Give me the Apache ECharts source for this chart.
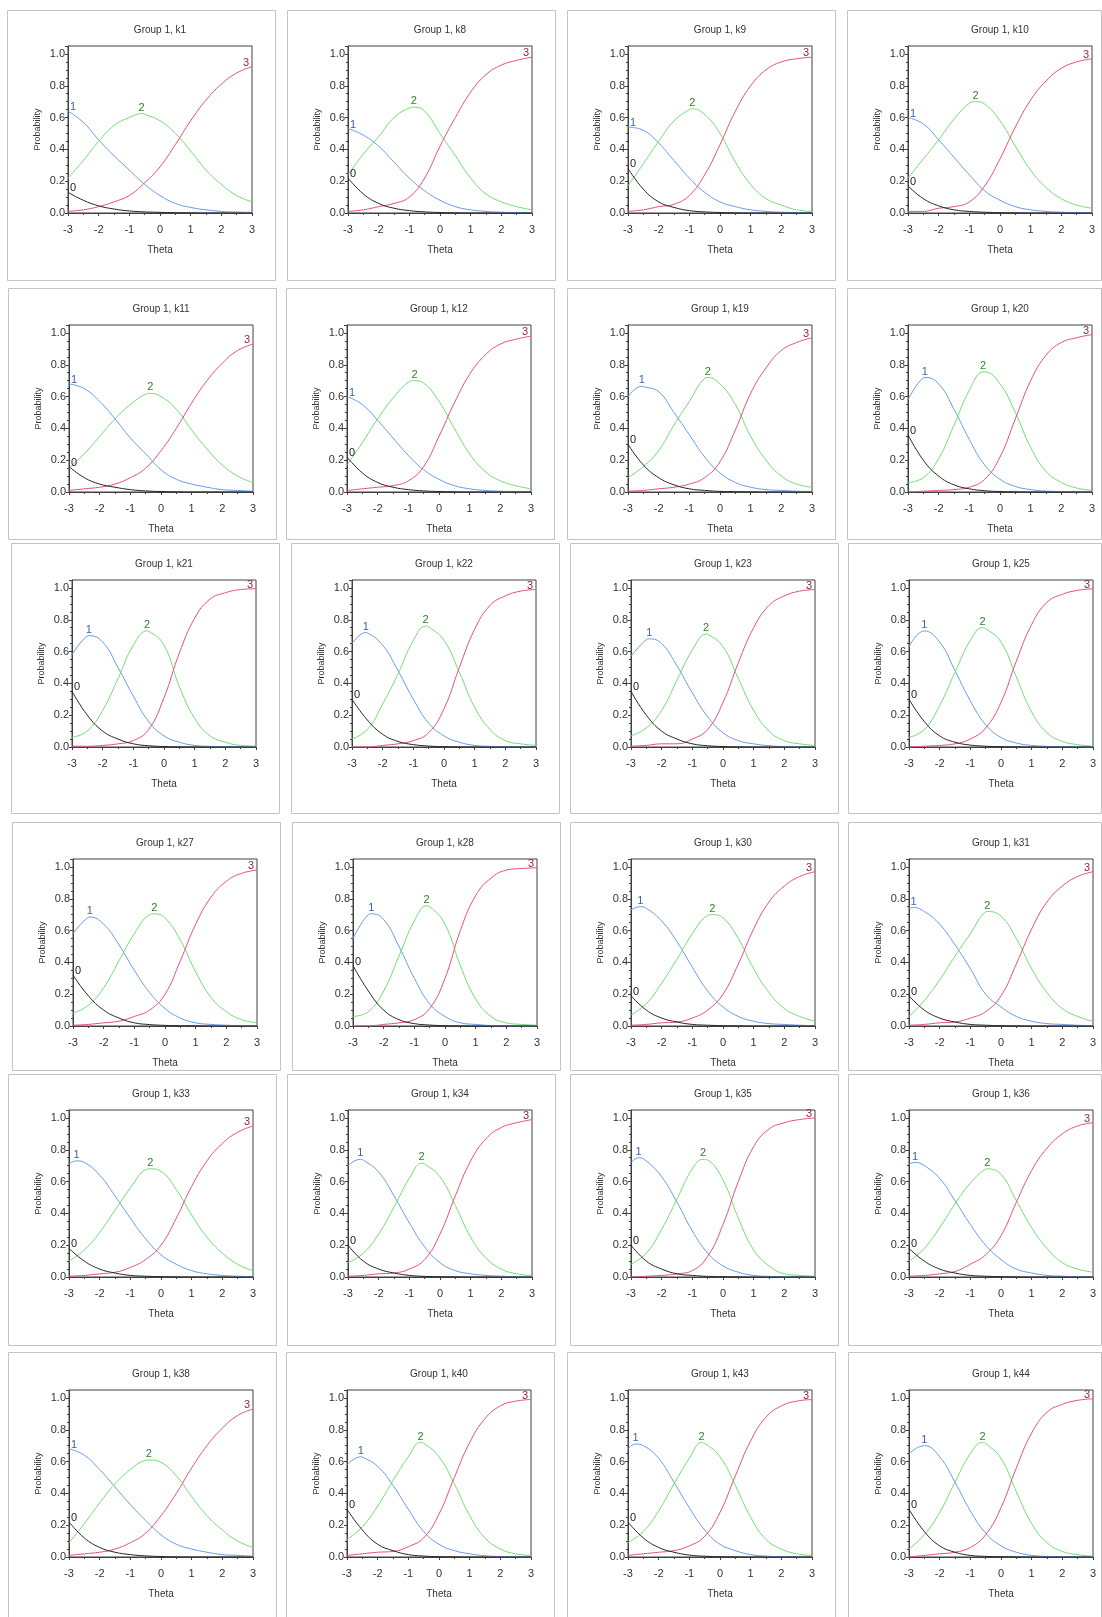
<!DOCTYPE html>
<html>
<head>
<meta charset="utf-8">
<title>Group 1 category curves</title>
<script src="https://cdn.jsdelivr.net/npm/echarts@6/dist/echarts.min.js"></script>
<style>
  html, body { margin: 0; padding: 0; background: #fff; }
  #chart { width: 1102px; height: 1617px; }
</style>
</head>
<body>
<div id="chart"></div>
<script>
/* ---------- data ---------- */
const theta = [-3, -2.5, -2, -1.5, -1, -0.5, 0, 0.5, 1, 1.5, 2, 2.5, 3];

const items = [
  'k1', 'k8', 'k9', 'k10',
  'k11', 'k12', 'k19', 'k20',
  'k21', 'k22', 'k23', 'k25',
  'k27', 'k28', 'k30', 'k31',
  'k33', 'k34', 'k35', 'k36',
  'k38', 'k40', 'k43', 'k44'
];

// category 0 (black)
const p0 = [
  [.13, .08, .045, .025, .013, .007, .004, .002, .001, 0, 0, 0, 0],
  [.22, .12, .06, .03, .015, .007, .003, .001, 0, 0, 0, 0, 0],
  [.28, .15, .07, .035, .015, .007, .003, .001, 0, 0, 0, 0, 0],
  [.17, .09, .045, .02, .01, .005, .002, .001, 0, 0, 0, 0, 0],
  [.16, .09, .05, .03, .015, .007, .003, .001, 0, 0, 0, 0, 0],
  [.22, .12, .06, .03, .015, .007, .003, .001, 0, 0, 0, 0, 0],
  [.30, .17, .09, .045, .02, .01, .004, .002, .001, 0, 0, 0, 0],
  [.36, .20, .10, .045, .02, .008, .003, .001, 0, 0, 0, 0, 0],
  [.35, .20, .10, .05, .02, .008, .003, .001, 0, 0, 0, 0, 0],
  [.30, .17, .08, .035, .015, .006, .002, .001, 0, 0, 0, 0, 0],
  [.35, .20, .10, .05, .02, .008, .003, .001, 0, 0, 0, 0, 0],
  [.30, .16, .07, .03, .012, .005, .002, .001, 0, 0, 0, 0, 0],
  [.32, .19, .10, .05, .02, .009, .004, .002, .001, 0, 0, 0, 0],
  [.38, .22, .10, .04, .015, .006, .002, .001, 0, 0, 0, 0, 0],
  [.19, .10, .05, .025, .01, .005, .002, .001, 0, 0, 0, 0, 0],
  [.19, .10, .05, .025, .01, .005, .002, .001, 0, 0, 0, 0, 0],
  [.18, .10, .05, .025, .01, .005, .002, .001, 0, 0, 0, 0, 0],
  [.20, .10, .05, .025, .01, .004, .002, .001, 0, 0, 0, 0, 0],
  [.20, .10, .05, .02, .01, .004, .002, .001, 0, 0, 0, 0, 0],
  [.18, .10, .05, .025, .01, .005, .002, .001, 0, 0, 0, 0, 0],
  [.22, .12, .06, .03, .015, .007, .003, .001, 0, 0, 0, 0, 0],
  [.30, .17, .08, .04, .015, .006, .002, .001, 0, 0, 0, 0, 0],
  [.22, .12, .06, .03, .012, .005, .002, .001, 0, 0, 0, 0, 0],
  [.30, .16, .07, .03, .01, .004, .002, .001, 0, 0, 0, 0, 0]
];

// category 1 (blue)
const p1 = [
  [.64, .57, .46, .36, .27, .18, .11, .06, .035, .02, .01, .006, .004],
  [.53, .49, .42, .32, .22, .14, .08, .04, .02, .01, .005, .003, .002],
  [.54, .52, .44, .33, .22, .13, .07, .04, .02, .01, .005, .003, .002],
  [.60, .56, .46, .35, .24, .14, .08, .04, .02, .01, .005, .003, .002],
  [.68, .65, .57, .46, .34, .24, .14, .08, .05, .03, .015, .01, .005],
  [.60, .55, .45, .34, .23, .14, .08, .04, .02, .01, .005, .003, .002],
  [.60, .663, .63, .50, .36, .22, .12, .06, .03, .015, .01, .005, .003],
  [.58, .718, .68, .52, .33, .17, .08, .035, .015, .006, .003, .001, 0],
  [.58, .698, .66, .50, .32, .16, .07, .03, .01, .004, .002, .001, 0],
  [.65, .718, .64, .48, .30, .15, .07, .03, .01, .004, .002, .001, 0],
  [.57, .675, .65, .51, .34, .19, .09, .04, .02, .008, .003, .001, 0],
  [.63, .73, .66, .48, .29, .14, .06, .025, .01, .004, .002, .001, 0],
  [.58, .683, .64, .51, .35, .21, .11, .05, .02, .01, .005, .002, .001],
  [.55, .70, .67, .50, .30, .14, .06, .02, .01, .003, .001, 0, 0],
  [.73, .74, .66, .53, .37, .22, .12, .06, .03, .015, .01, .005, .002],
  [.74, .72, .64, .51, .36, .20, .12, .06, .03, .015, .01, .005, .002],
  [.71, .72, .64, .51, .37, .24, .14, .08, .04, .02, .01, .005, .003],
  [.70, .735, .66, .51, .34, .19, .09, .04, .02, .01, .005, .002, .001],
  [.72, .73, .63, .47, .29, .15, .07, .03, .01, .004, .002, .001, 0],
  [.71, .70, .62, .48, .33, .20, .11, .05, .025, .01, .005, .002, .001],
  [.68, .64, .55, .44, .33, .23, .14, .08, .05, .03, .015, .01, .005],
  [.58, .628, .57, .45, .30, .16, .08, .04, .02, .008, .003, .001, 0],
  [.68, .70, .62, .47, .31, .17, .08, .04, .015, .006, .002, .001, 0],
  [.65, .70, .63, .47, .29, .15, .07, .03, .01, .004, .002, .001, 0]
];

// category 2 (green)
const p2 = [
  [.22, .33, .45, .55, .60, .62, .58, .50, .39, .27, .18, .11, .07],
  [.24, .37, .48, .60, .66, .64, .50, .36, .22, .12, .07, .04, .02],
  [.17, .31, .45, .58, .65, .62, .50, .32, .18, .09, .05, .02, .01],
  [.22, .34, .46, .59, .69, .685, .58, .42, .27, .16, .09, .05, .03],
  [.15, .24, .35, .46, .55, .615, .60, .52, .39, .27, .17, .10, .06],
  [.17, .31, .46, .59, .69, .685, .57, .40, .24, .13, .07, .04, .02],
  [.09, .16, .26, .42, .57, .715, .68, .55, .35, .20, .10, .05, .03],
  [.06, .09, .21, .42, .64, .755, .68, .50, .28, .13, .06, .025, .01],
  [.06, .10, .23, .43, .64, .728, .64, .38, .18, .07, .03, .01, .005],
  [.05, .11, .27, .46, .67, .755, .67, .47, .25, .11, .04, .02, .01],
  [.07, .12, .23, .42, .61, .708, .63, .43, .23, .10, .04, .02, .01],
  [.06, .11, .26, .47, .67, .745, .66, .44, .22, .09, .035, .015, .005],
  [.08, .13, .24, .41, .58, .70, .68, .54, .34, .18, .09, .04, .02],
  [.06, .09, .22, .44, .66, .75, .64, .38, .17, .06, .02, .01, .005],
  [.07, .14, .27, .42, .58, .695, .68, .55, .36, .21, .11, .06, .03],
  [.06, .16, .29, .44, .58, .718, .69, .55, .36, .21, .11, .06, .03],
  [.10, .17, .28, .42, .56, .675, .665, .55, .39, .25, .15, .08, .04],
  [.09, .15, .27, .44, .62, .71, .63, .45, .25, .12, .05, .02, .01],
  [.08, .15, .30, .49, .68, .735, .61, .37, .17, .07, .02, .01, .005],
  [.10, .18, .31, .46, .59, .678, .645, .48, .31, .18, .09, .05, .03],
  [.09, .21, .34, .46, .55, .608, .595, .51, .38, .26, .17, .10, .06],
  [.11, .19, .32, .48, .63, .715, .63, .46, .26, .12, .05, .02, .01],
  [.09, .16, .29, .46, .62, .715, .63, .45, .25, .11, .05, .02, .01],
  [.05, .14, .28, .47, .65, .714, .62, .41, .21, .09, .035, .015, .005]
];

// category 3 (red)
const p3 = [
  [.01, .02, .04, .07, .11, .19, .29, .43, .58, .71, .81, .88, .92],
  [.01, .02, .04, .06, .10, .22, .42, .60, .76, .87, .93, .96, .98],
  [.01, .02, .04, .055, .11, .24, .43, .64, .80, .90, .95, .97, .98],
  [.01, .01, .03, .04, .07, .17, .34, .54, .71, .83, .91, .95, .97],
  [.01, .02, .03, .05, .09, .15, .26, .40, .56, .70, .81, .89, .93],
  [.01, .02, .03, .04, .07, .16, .35, .56, .74, .86, .93, .96, .98],
  [.005, .01, .02, .03, .05, .09, .19, .39, .62, .78, .89, .94, .97],
  [0, .005, .01, .015, .03, .08, .22, .46, .70, .86, .94, .97, .99],
  [.005, .005, .01, .02, .04, .11, .31, .59, .81, .93, .97, .99, .995],
  [0, 0, .01, .02, .04, .09, .24, .50, .74, .89, .95, .98, .99],
  [.005, .01, .02, .02, .05, .11, .28, .53, .75, .89, .95, .98, .99],
  [0, .005, .01, .02, .05, .12, .28, .54, .77, .91, .96, .985, .995],
  [.005, .01, .02, .03, .06, .10, .20, .41, .64, .81, .91, .96, .98],
  [0, 0, .01, .02, .04, .11, .30, .60, .82, .93, .98, .99, .995],
  [.005, .01, .02, .025, .05, .10, .20, .39, .61, .78, .88, .94, .97],
  [.005, .01, .02, .025, .05, .09, .19, .39, .61, .78, .88, .94, .97],
  [.005, .01, .02, .03, .06, .11, .20, .37, .57, .73, .84, .91, .95],
  [.005, .01, .02, .025, .05, .11, .27, .51, .73, .87, .94, .97, .99],
  [0, .005, .01, .02, .04, .13, .33, .60, .82, .93, .97, .99, 1.0],
  [.005, .01, .02, .035, .08, .14, .26, .47, .67, .81, .90, .95, .97],
  [.01, .02, .03, .05, .09, .15, .26, .40, .56, .70, .81, .89, .93],
  [.01, .02, .03, .035, .065, .12, .27, .50, .72, .87, .95, .98, .99],
  [.01, .02, .03, .04, .07, .13, .28, .51, .73, .88, .95, .98, .99],
  [0, .01, .02, .03, .06, .14, .31, .56, .78, .91, .96, .985, .995]
];

// read-off peaks [theta, probability] of the bell-shaped curves (null: no inner peak)
const peak1 = [
  null, null, null, null,
  null, null, [-2.55, .665], [-2.45, .72],
  [-2.45, .70], [-2.55, .72], [-2.4, .68], [-2.5, .73],
  [-2.45, .685], [-2.4, .705], [-2.7, .75], [-2.85, .745],
  [-2.75, .73], [-2.6, .74], [-2.75, .75], [-2.8, .72],
  null, [-2.55, .63], [-2.75, .71], [-2.5, .70]
];
const peak2 = [
  [-0.6, .625], [-0.85, .665], [-0.9, .655], [-0.8, .70],
  [-0.35, .62], [-0.8, .70], [-0.4, .72], [-0.55, .755],
  [-0.55, .73], [-0.6, .76], [-0.55, .71], [-0.6, .75],
  [-0.35, .705], [-0.6, .755], [-0.35, .70], [-0.45, .72],
  [-0.35, .68], [-0.6, .715], [-0.65, .74], [-0.45, .68],
  [-0.4, .61], [-0.6, .72], [-0.6, .72], [-0.6, .72]
];

const categories = ['0', '1', '2', '3'];
const curves = [p0, p1, p2, p3];
const peaks = [null, peak1, peak2, null];

/* ---------- layout (pixels) ---------- */
const rowPanelTop = [10, 288, 543, 822, 1074, 1352];
const rowPanelBottom = [280, 539, 813, 1070, 1345, 1630];
const rowBoxTop = [46, 325, 580, 859, 1110, 1390];
const rowBoxLeft = [
  [68, 348, 628, 908],
  [69, 347, 628, 908],
  [72, 352, 631, 909],
  [73, 353, 631, 909],
  [69, 348, 631, 909],
  [69, 347, 628, 909]
];
const BOX_W = 184;
const BOX_H = 167;

const lineColors = ['#262626', '#6a9be6', '#74dc74', '#e6507e'];
const labelColors = ['#222222', '#3e63a8', '#2f7d2f', '#8a2844'];
const FONT = '"Liberation Sans", Arial, sans-serif';

/* ---------- helpers ---------- */
function curvePoints(vals, pk) {
  const pts = theta.map(function (t, j) { return [t, vals[j]]; });
  if (pk) {
    const same = pts.findIndex(function (p) { return Math.abs(p[0] - pk[0]) < 1e-9; });
    if (same >= 0) { pts[same] = pk.slice(); } else { pts.push(pk.slice()); }
    pts.sort(function (a, b) { return a[0] - b[0]; });
  }
  return pts;
}

/* ---------- build option ---------- */
const grids = [], xAxes = [], yAxes = [], titles = [], series = [], graphics = [];

items.forEach(function (name, i) {
  const r = Math.floor(i / 4), c = i % 4;
  const left = rowBoxLeft[r][c];
  const top = rowBoxTop[r];

  // panel frame
  const pl = left - 61;
  const pr = Math.min(left + 207, 1101);
  graphics.push({
    type: 'rect', silent: true,
    shape: { x: pl + 0.5, y: rowPanelTop[r] + 0.5, width: pr - pl, height: rowPanelBottom[r] - rowPanelTop[r] },
    style: { fill: 'none', stroke: '#c4c4c4', lineWidth: 1 }
  });

  grids.push({
    left: left, top: top, width: BOX_W, height: BOX_H,
    show: true, borderColor: '#404040', borderWidth: 1, backgroundColor: '#fff'
  });

  titles.push({
    text: 'Group 1, ' + name,
    left: left + BOX_W / 2, top: top - 21, textAlign: 'center', padding: 0,
    textStyle: { fontFamily: FONT, fontSize: 10, fontWeight: 'normal', color: '#333' }
  });

  xAxes.push({
    gridIndex: i, type: 'value', min: -3, max: 3, interval: 1,
    name: 'Theta', nameLocation: 'middle', nameGap: 32,
    nameTextStyle: { fontFamily: FONT, fontSize: 10, color: '#333' },
    axisLine: { onZero: false, lineStyle: { color: '#404040' } },
    axisTick: { length: 3, lineStyle: { color: '#404040' } },
    minorTick: { show: true, splitNumber: 2, length: 2, lineStyle: { color: '#404040' } },
    axisLabel: { fontFamily: FONT, fontSize: 11, color: '#333', margin: 11 },
    splitLine: { show: false }
  });

  yAxes.push({
    gridIndex: i, type: 'value', min: 0, max: 1.05, interval: 0.2,
    name: 'Probability', nameLocation: 'middle', nameGap: 26,
    nameTextStyle: { fontFamily: FONT, fontSize: 9, color: '#333' },
    axisLine: { show: true, onZero: false, lineStyle: { color: '#404040' } },
    axisTick: { show: true, length: 3, lineStyle: { color: '#404040' } },
    minorTick: { show: true, splitNumber: 4, length: 2, lineStyle: { color: '#404040' } },
    axisLabel: {
      fontFamily: FONT, fontSize: 11, color: '#333', margin: 3,
      formatter: function (v) { return v > 1.001 ? '' : v.toFixed(1); }
    },
    splitLine: { show: false }
  });

  curves.forEach(function (arr, k) {
    const pk = peaks[k] ? peaks[k][i] : null;
    const pts = curvePoints(arr[i], pk);
    const ys = pts.map(function (p) { return p[1]; });
    const top1 = ys.indexOf(Math.max.apply(null, ys));
    let offset = [0, -6];
    if (top1 === 0) { offset = [5, -4]; }
    else if (top1 === ys.length - 1) { offset = [-6, -4]; }
    series.push({
      type: 'line', name: categories[k],
      xAxisIndex: i, yAxisIndex: i,
      data: pts,
      showSymbol: false, smooth: 0.45, silent: true,
      lineStyle: { color: lineColors[k], width: 1 },
      z: k === 0 ? 4 : 3,
      markPoint: {
        symbol: 'circle', symbolSize: 1, silent: true,
        itemStyle: { color: 'rgba(0,0,0,0)' },
        label: {
          show: true, position: 'inside', offset: offset,
          formatter: categories[k],
          fontFamily: FONT, fontSize: 11, color: labelColors[k]
        },
        data: [{ type: 'max' }]
      }
    });
  });
});

const chart = echarts.init(document.getElementById('chart'));
chart.setOption({
  backgroundColor: '#fff',
  animation: false,
  title: titles,
  grid: grids,
  xAxis: xAxes,
  yAxis: yAxes,
  series: series,
  graphic: graphics
});
</script>
</body>
</html>
